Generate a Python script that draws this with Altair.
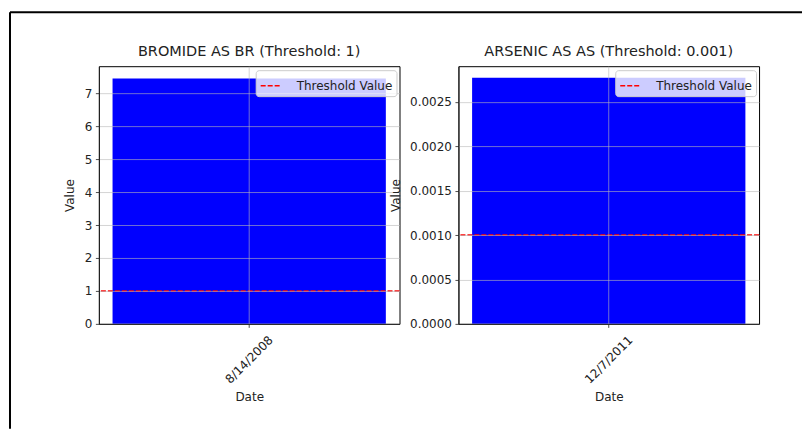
import altair as alt
import pandas as pd

titles = ["BROMIDE AS BR (Threshold: 1)", "ARSENIC AS AS (Threshold: 0.001)"]
dates = ["8/14/2008", "12/7/2011"]
values = [7.45, 0.00277]
thresholds = [1, 0.001]
y_max = [7.82, 0.0029]
y_ticks = [[0, 1, 2, 3, 4, 5, 6, 7], [0, 0.0005, 0.001, 0.0015, 0.002, 0.0025]]
y_formats = ["d", ".4f"]
legend_label = "Threshold Value"

W, H = 301, 258
FONT = "DejaVu Sans"


def panel(i):
    df = pd.DataFrame({
        "Date": [dates[i]],
        "Value": [values[i]],
        "Threshold": [thresholds[i]],
        "Series": [legend_label],
    })
    base = alt.Chart(df)
    y_axis = alt.Axis(values=y_ticks[i], format=y_formats[i], title="Value",
                      titlePadding=7.5, labelPadding=3.5, grid=True, zindex=1,
                      labelOverlap=False)
    y_scale = alt.Scale(domain=[0, y_max[i]], nice=False, zero=True)
    bars = base.mark_bar(color="#0000ff").encode(
        x=alt.X("Date:N",
                scale=alt.Scale(paddingInner=0, paddingOuter=0.05),
                axis=alt.Axis(title="Date", labelAngle=-45, labelAlign="center",
                              labelBaseline="middle", labelPadding=32, titlePadding=6,
                              grid=True, zindex=1)),
        y=alt.Y("Value:Q", scale=y_scale, axis=y_axis),
    )
    rule = base.mark_rule(strokeWidth=1.5, strokeDash=[5, 2]).encode(
        y=alt.Y("Threshold:Q", scale=y_scale, axis=y_axis),
        color=alt.Color("Series:N",
                        scale=alt.Scale(domain=[legend_label], range=["#ff0000"]),
                        legend=alt.Legend(title=None, orient="top-right", offset=3.5,
                                          fillColor="rgba(255,255,255,0.8)",
                                          strokeColor="#cccccc", cornerRadius=3,
                                          padding=4, symbolType="stroke",
                                          symbolDash=[5, 2], symbolStrokeWidth=1.5,
                                          symbolSize=441, labelFontSize=12,
                                          labelFont=FONT, labelColor="#222",
                                          labelOffset=14, zindex=2)),
    )
    layers = [bars, rule]
    title = alt.TitleParams(titles[i])
    if i == 0:
        frame_df = pd.DataFrame({"k": [0]})
        top = alt.Chart(frame_df).mark_rule(color="black", strokeWidth=2).encode(
            x=alt.value(-89), x2=alt.value(704), y=alt.value(-54))
        left = alt.Chart(frame_df).mark_rule(color="black", strokeWidth=2).encode(
            x=alt.value(-89), y=alt.value(-54), y2=alt.value(363))
        layers += [top, left]
        title = alt.TitleParams(titles[i], dy=55)
    return alt.layer(*layers).properties(width=W, height=H, title=title)


chart = alt.hconcat(panel(0), panel(1), spacing=59, bounds="flush").resolve_scale(
    y="independent", color="independent", x="independent"
).resolve_legend(color="independent").properties(
    padding={"left": 0, "top": 2, "right": 0, "bottom": 0},
    background="white",
).configure_view(
    stroke="black", strokeWidth=1
).configure_axis(
    labelFont=FONT, titleFont=FONT, labelFontSize=12, titleFontSize=12,
    titleFontWeight="normal", labelColor="#222", titleColor="#222",
    tickColor="#222", tickSize=3.5, tickWidth=0.8, domainColor="#222",
    domainWidth=1, gridColor="#b8b8b8", gridOpacity=0.75, gridWidth=0.8,
).configure_title(
    font=FONT, fontSize=14.5, fontWeight="normal", color="#222",
    offset=6.5, baseline="alphabetic", anchor="middle",
)

chart.save("out.html", embed_options={"renderer": "svg", "actions": False})
